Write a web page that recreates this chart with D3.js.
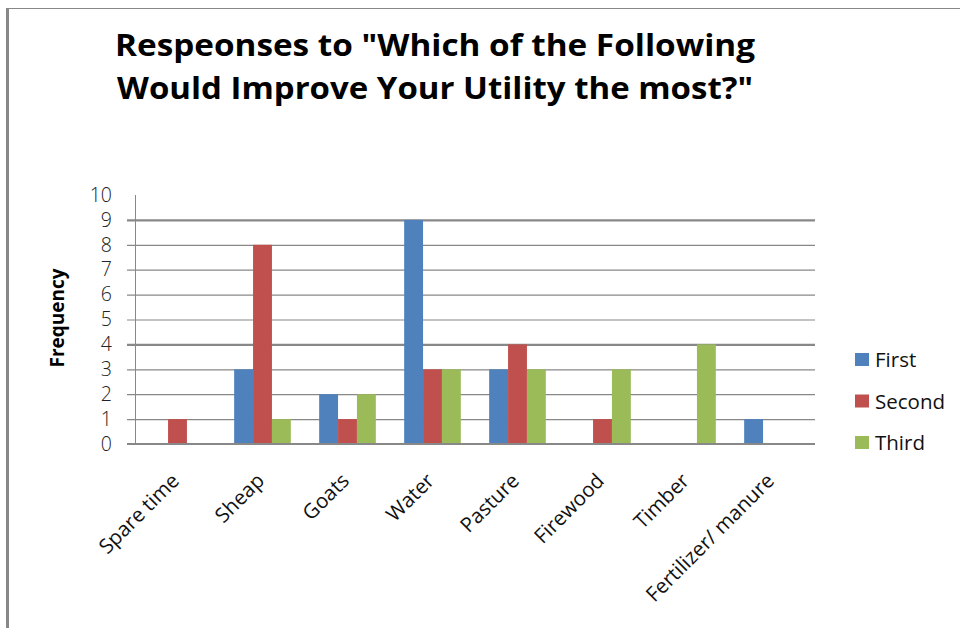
<!DOCTYPE html>
<html>
<head>
<meta charset="utf-8">
<script src="https://cdn.jsdelivr.net/npm/d3@7"></script>
<style>
  html, body { margin: 0; padding: 0; background: #fff; }
  svg { display: block; }
  text { font-family: "Open Sans", "Liberation Sans", sans-serif; }
</style>
</head>
<body>
<svg id="chart" width="960" height="628"></svg>
<script>
// Survey answers: how often each item was ranked first, second and third
const categories = ["Spare time", "Sheap", "Goats", "Water", "Pasture", "Firewood", "Timber", "Fertilizer/ manure"];
const seriesNames = ["First", "Second", "Third"];
const firstValues  = [0, 3, 2, 9, 3, 0, 0, 1];
const secondValues = [1, 8, 1, 3, 4, 1, 0, 0];
const thirdValues  = [0, 1, 2, 3, 3, 3, 4, 0];
const yTicks = [0, 1, 2, 3, 4, 5, 6, 7, 8, 9, 10];
const titleLines = ["Respeonses to \"Which of the Following", "Would Improve Your Utility the most?\""];
const yAxisTitle = "Frequency";

const colors = ["#4f81bd", "#c0504d", "#9bbb59"];
const seriesValues = [firstValues, secondValues, thirdValues];

const svg = d3.select("#chart");
const W = 960, H = 628;

// outer frame (left and top edges)
svg.append("line").attr("x1", 7.5).attr("x2", 7.5).attr("y1", 8).attr("y2", H)
  .attr("stroke", "#888").attr("stroke-width", 3);
svg.append("line").attr("x1", 7).attr("x2", W).attr("y1", 8.5).attr("y2", 8.5)
  .attr("stroke", "#888").attr("stroke-width", 1);

// title
const title = svg.append("g");
titleLines.forEach((t, i) => {
  title.append("text")
    .attr("x", 435).attr("y", 56 + i * 43)
    .attr("text-anchor", "middle")
    .attr("font-size", 31).attr("font-weight", 700)
    .attr("textLength", i === 0 ? 640 : 636)
    .attr("lengthAdjust", "spacingAndGlyphs")
    .attr("fill", "#000")
    .text(t);
});

// plot area
const plot = { left: 135, right: 815, top: 195, bottom: 444 };

const x0 = d3.scaleBand().domain(categories).range([plot.left, plot.right]).paddingInner(0).paddingOuter(0);
const groupWidth = x0.bandwidth() * 3 / 4.5;
const x1 = d3.scaleBand().domain(seriesNames).range([0, groupWidth]).padding(0);
const y = d3.scaleLinear().domain([0, 10]).range([plot.bottom, plot.top]);

// horizontal gridlines with short tick marks on the left
const gridTicks = yTicks.filter(v => v > 0 && v < 10);
svg.append("g")
  .attr("transform", `translate(${plot.left},0)`)
  .call(d3.axisLeft(y).tickValues(gridTicks).tickSize(-(plot.right - plot.left)).tickFormat(""))
  .call(g => g.select(".domain").remove())
  .call(g => g.selectAll(".tick line")
    .attr("stroke", "#888")
    .attr("stroke-width", d => (d === 9 || d === 4) ? 2.2 : 1.2)
    .attr("x1", -8));

// vertical axis line
svg.append("line")
  .attr("x1", plot.left + 0.5).attr("x2", plot.left + 0.5)
  .attr("y1", plot.top).attr("y2", plot.bottom)
  .attr("stroke", "#888").attr("stroke-width", 1);

// y tick labels
svg.append("g")
  .attr("transform", `translate(${plot.left},0)`)
  .call(d3.axisLeft(y).tickValues(yTicks).tickSize(0).tickPadding(23).tickFormat(d3.format("d")))
  .call(g => g.select(".domain").remove())
  .call(g => g.selectAll(".tick text")
    .attr("font-size", 19.5)
    .attr("font-weight", 300)
    .attr("font-family", "'Open Sans', sans-serif")
    .attr("fill", "#222"));

// bars
const groups = svg.append("g").selectAll("g")
  .data(categories)
  .join("g")
  .attr("transform", d => `translate(${x0(d) + (x0.bandwidth() - groupWidth) / 2},0)`);

groups.selectAll("rect")
  .data((c, ci) => seriesNames.map((s, si) => ({ s, si, v: seriesValues[si][ci] })))
  .join("rect")
  .attr("x", d => x1(d.s))
  .attr("width", x1.bandwidth())
  .attr("y", d => y(d.v))
  .attr("height", d => y(0) - y(d.v))
  .attr("fill", d => colors[d.si]);

// category baseline
svg.append("line")
  .attr("x1", plot.left - 8).attr("x2", plot.right)
  .attr("y1", y(0)).attr("y2", y(0))
  .attr("stroke", "#888").attr("stroke-width", 2.2);

// rotated category labels
svg.append("g").selectAll("text")
  .data(categories)
  .join("text")
  .attr("transform", d => `translate(${x0(d) + x0.bandwidth() / 2 + 3},${plot.bottom + 38}) rotate(-45)`)
  .attr("text-anchor", "end")
  .attr("font-size", 20.5)
  .attr("fill", "#111")
  .text(d => d);

// y axis title
svg.append("text")
  .attr("transform", `translate(64,318) rotate(-90)`)
  .attr("text-anchor", "middle")
  .attr("font-size", 19).attr("font-weight", 700)
  .attr("fill", "#000")
  .text(yAxisTitle);

// legend
const legend = svg.append("g").selectAll("g")
  .data(seriesNames)
  .join("g")
  .attr("transform", (d, i) => `translate(855,${353 + i * 41.5})`);
legend.append("rect").attr("width", 14).attr("height", 13).attr("fill", (d, i) => colors[i]);
legend.append("text")
  .attr("x", 20).attr("y", 14)
  .attr("font-size", 20.5)
  .attr("fill", "#111")
  .text(d => d);
</script>
</body>
</html>
